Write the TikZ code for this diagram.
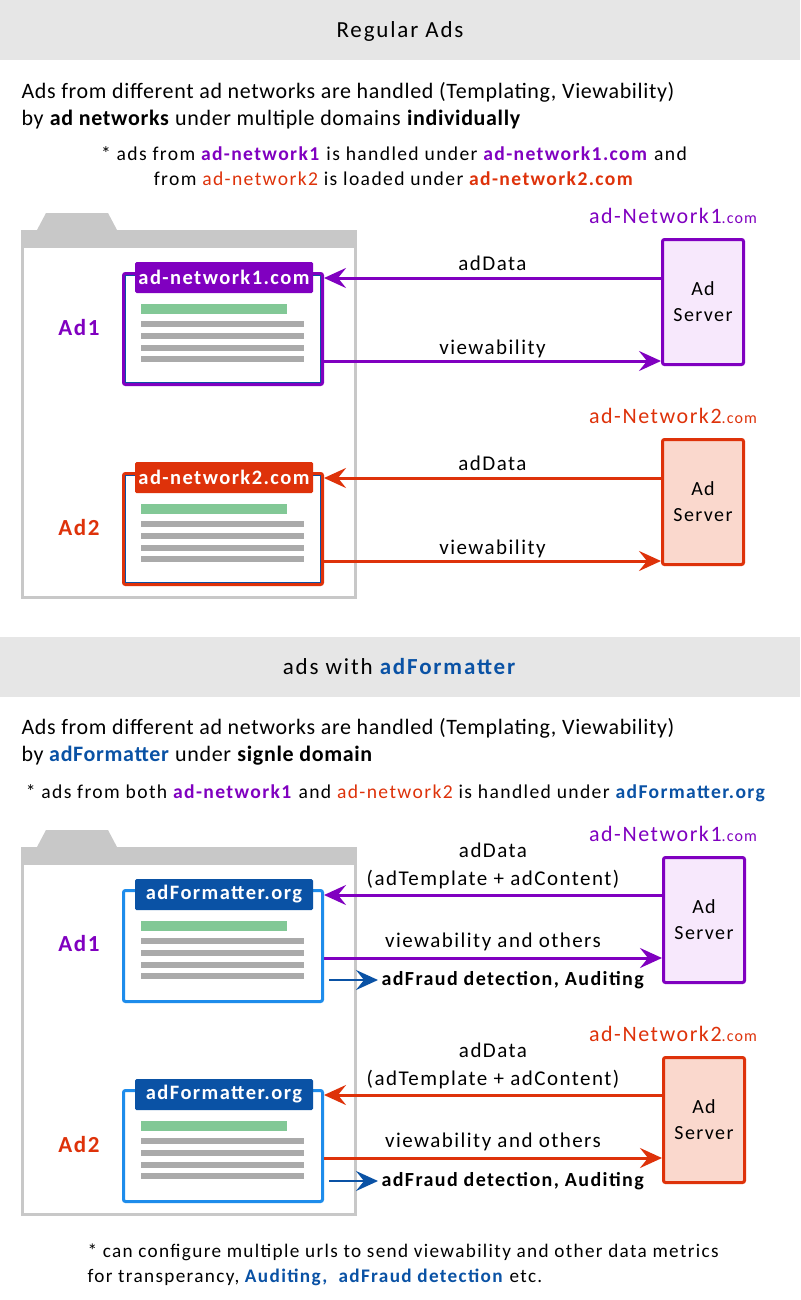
\documentclass[tikz,border=0pt]{standalone}
\usepackage{fontspec}
\setmainfont{Carlito}
\newfontfamily\widefont[LetterSpace=7]{Carlito}
\newfontfamily\titlefont[LetterSpace=8]{Carlito}
\newfontfamily\parafont[LetterSpace=3]{Carlito}
\usetikzlibrary{arrows.meta,positioning}

\definecolor{netpurple}{RGB}{128,0,192}
\definecolor{netred}{RGB}{222,50,10}
\definecolor{fmtblue}{RGB}{10,82,165}
\definecolor{fmtframe}{RGB}{30,140,235}
\definecolor{bandgray}{RGB}{230,230,230}
\definecolor{foldergray}{RGB}{200,200,200}
\definecolor{linegray}{RGB}{170,170,170}
\definecolor{linegreen}{RGB}{130,200,150}
\definecolor{srvpurple}{RGB}{247,232,252}
\definecolor{srvred}{RGB}{250,216,205}

\tikzset{
  band/.style={fill=bandgray},
  folder/.style={fill=foldergray},
  frame/.style={draw=foldergray, line width=3pt},
  adbox/.style={draw=#1, line width=3pt, fill=white, rounded corners=2pt,
    minimum width=199pt, minimum height=111pt, inner sep=0pt},
  innerline/.style={draw=fmtblue, line width=0.8pt},
  tagbox/.style={fill=#1, text=white, rounded corners=1.5pt,
    minimum width=178pt, minimum height=31pt, inner sep=0pt,
    font=\widefont\bfseries\fontsize{20.5}{20.5}\selectfont},
  adname/.style={text=#1, font=\widefont\bfseries\fontsize{23}{23}\selectfont},
  server/.style={draw=#1, line width=3pt, rounded corners=2pt,
    minimum width=81pt, minimum height=125pt, align=center,
    font=\widefont\fontsize{20}{26}\selectfont},
  netlabel/.style={text=#1, font=\widefont\fontsize{22}{22}\selectfont},
  flow/.style={draw=#1, line width=3pt, -{Stealth[length=22pt,width=20pt,inset=8pt]}},
  audit/.style={draw=fmtblue, line width=2pt, -{Stealth[length=22pt,width=20pt,inset=8pt]}},
  msg/.style={font=\widefont\fontsize{21}{28}\selectfont, align=center},
  fraud/.style={font=\widefont\bfseries\fontsize{20}{20}\selectfont},
  heading/.style={font=\titlefont\fontsize{23}{23}\selectfont},
  para/.style={font=\parafont\fontsize{22}{27}\selectfont, align=left},
  remark/.style={font=\widefont\fontsize{19.6}{25}\selectfont},
}

\begin{document}
\begin{tikzpicture}[x=1pt, y=-1pt]
  \fill[white] (0,0) rectangle (800,1300);
  \useasboundingbox (0,0) rectangle (800,1300);

  % Regular ads
  \fill[band] (0,0) rectangle (800,60);
  \node[heading] (title1) at (400,31) {Regular Ads};
  \node[para, anchor=base west] (intro1) at (18,125.5) {Ads from different ad networks are handled (Templating, Viewability)\\
    by \textbf{ad networks} under multiple domains \textbf{individually}};
  \node[remark, align=center, anchor=base] (note1) at (394,185.5) {* ads from \textcolor{netpurple}{\textbf{ad-network1}} is handled under \textcolor{netpurple}{\textbf{ad-network1.com}} and\\
    from \textcolor{netred}{ad-network2} is loaded under \textcolor{netred}{\textbf{ad-network2.com}}};

  \fill[folder] (37,230) -- (46,213) -- (108,213) -- (117,230) -- cycle;
  \fill[folder] (21,230) rectangle (357,248);
  \draw[frame] (22.5,248) -- (22.5,597) -- (355.5,597) -- (355.5,248);

  \node[adbox=netpurple] (ad1) at (223,329) {};
  \node[adbox=netred] (ad2) at (223,529) {};
  \draw[innerline] ([shift={(3.5,-3.5)}]ad1.south west) rectangle ([shift={(-3.5,3.5)}]ad1.north east);
  \draw[innerline] ([shift={(3.5,-3.5)}]ad2.south west) rectangle ([shift={(-3.5,3.5)}]ad2.north east);
  \node[tagbox=netpurple] (tag1) at (224,277.5) {ad-network1.com};
  \node[tagbox=netred] (tag2) at (224,477.5) {ad-network2.com};
  \fill[linegreen] (141,304) rectangle (287,313.5);
  \fill[linegray] (141,321) rectangle (304,327);
  \fill[linegray] (141,333) rectangle (304,339);
  \fill[linegray] (141,345) rectangle (304,350.5);
  \fill[linegray] (141,356) rectangle (304,362);
  \fill[linegreen] (141,504) rectangle (287,513.5);
  \fill[linegray] (141,521) rectangle (304,527);
  \fill[linegray] (141,533) rectangle (304,539);
  \fill[linegray] (141,545) rectangle (304,550.5);
  \fill[linegray] (141,556) rectangle (304,562);
  \node[adname=netpurple] (name1) at (79,328) {Ad1};
  \node[adname=netred] (name2) at (79,528) {Ad2};

  \node[server=netpurple, fill=srvpurple] (srv1) at (703,302) {Ad\\Server};
  \node[server=netred, fill=srvred] (srv2) at (703,502) {Ad\\Server};
  \node[netlabel=netpurple] (net1) at (673,216) {ad-Network1{\fontsize{16}{16}\selectfont.com}};
  \node[netlabel=netred] (net2) at (673,416) {ad-Network2{\fontsize{16}{16}\selectfont.com}};

  \draw[flow=netpurple] (srv1.west |- 0,278) -- (ad1.east |- 0,278)
    node[msg, midway, anchor=base, yshift=8pt] {adData};
  \draw[flow=netpurple] (ad1.east |- 0,361) -- (srv1.west |- 0,361)
    node[msg, midway, anchor=base, yshift=7pt] {viewability};
  \draw[flow=netred] (srv2.west |- 0,478) -- (ad2.east |- 0,478)
    node[msg, midway, anchor=base, yshift=8pt] {adData};
  \draw[flow=netred] (ad2.east |- 0,561) -- (srv2.west |- 0,561)
    node[msg, midway, anchor=base, yshift=7pt] {viewability};

  % ads with adFormatter
  \fill[band] (0,637) rectangle (800,697);
  \node[heading] (title2) at (400,667) {ads with \textcolor{fmtblue}{\textbf{adFormatter}}};
  \node[para, anchor=base west] (intro2) at (18,761) {Ads from different ad networks are handled (Templating, Viewability)\\
    by \textcolor{fmtblue}{\textbf{adFormatter}} under \textbf{signle domain}};
  \node[remark, anchor=base] (note2) at (396,798) {* ads from both \textcolor{netpurple}{\textbf{ad-network1}} and \textcolor{netred}{ad-network2} is handled under \textcolor{fmtblue}{\textbf{adFormatter.org}}};

  \fill[folder] (37,847) -- (46,830) -- (108,830) -- (117,847) -- cycle;
  \fill[folder] (21,847) rectangle (357,865);
  \draw[frame] (22.5,865) -- (22.5,1214) -- (355.5,1214) -- (355.5,865);

  \node[adbox=fmtframe] (ad3) at (223,946) {};
  \node[adbox=fmtframe] (ad4) at (223,1146) {};
  \node[tagbox=fmtblue] (tag3) at (224,894.5) {adFormatter.org};
  \node[tagbox=fmtblue] (tag4) at (224,1094.5) {adFormatter.org};
  \fill[linegreen] (141,921) rectangle (287,930.5);
  \fill[linegray] (141,938) rectangle (304,944);
  \fill[linegray] (141,950) rectangle (304,956);
  \fill[linegray] (141,962) rectangle (304,967.5);
  \fill[linegray] (141,973) rectangle (304,979);
  \fill[linegreen] (141,1121) rectangle (287,1130.5);
  \fill[linegray] (141,1138) rectangle (304,1144);
  \fill[linegray] (141,1150) rectangle (304,1156);
  \fill[linegray] (141,1162) rectangle (304,1167.5);
  \fill[linegray] (141,1173) rectangle (304,1179);
  \node[adname=netpurple] (name3) at (79,944) {Ad1};
  \node[adname=netred] (name4) at (79,1145) {Ad2};

  \node[server=netpurple, fill=srvpurple] (srv3) at (704,920) {Ad\\Server};
  \node[server=netred, fill=srvred] (srv4) at (704,1120) {Ad\\Server};
  \node[netlabel=netpurple] (net3) at (673,834) {ad-Network1{\fontsize{16}{16}\selectfont.com}};
  \node[netlabel=netred] (net4) at (673,1034) {ad-Network2{\fontsize{16}{16}\selectfont.com}};

  \draw[flow=netpurple] (srv3.west |- 0,895) -- (ad3.east |- 0,895)
    node[msg, midway, anchor=south, yshift=1pt] {adData\\(adTemplate + adContent)};
  \draw[flow=netpurple] (ad3.east |- 0,958) -- (srv3.west |- 0,958)
    node[msg, midway, anchor=base, yshift=11pt] {viewability and others};
  \draw[flow=netred] (srv4.west |- 0,1095) -- (ad4.east |- 0,1095)
    node[msg, midway, anchor=south, yshift=1pt] {adData\\(adTemplate + adContent)};
  \draw[flow=netred] (ad4.east |- 0,1158) -- (srv4.west |- 0,1158)
    node[msg, midway, anchor=base, yshift=11pt] {viewability and others};

  \node[fraud, anchor=west] (fraud1) at (378,980) {adFraud detection, Auditing};
  \node[fraud, anchor=west] (fraud2) at (378,1181) {adFraud detection, Auditing};
  \draw[audit, shorten <=5pt] (ad3.east |- fraud1) -- (fraud1.west);
  \draw[audit, shorten <=5pt] (ad4.east |- fraud2) -- (fraud2.west);

  \node[remark, font=\widefont\fontsize{19.2}{25}\selectfont, align=left, anchor=base west] (outro) at (84,1282.5) {* can configure multiple urls to send viewability and other data metrics\\
    for transperancy, \textcolor{fmtblue}{\textbf{Auditing,\ \ adFraud detection}} etc.};
\end{tikzpicture}
\end{document}
